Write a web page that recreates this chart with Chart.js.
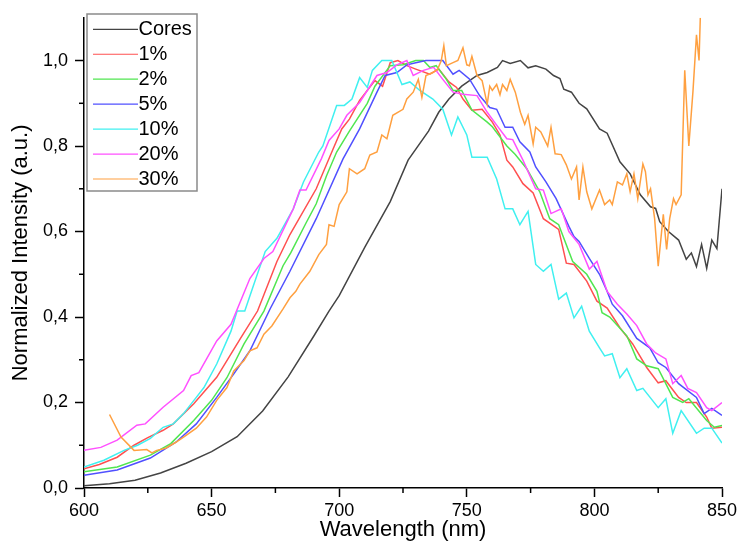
<!DOCTYPE html>
<html>
<head>
<meta charset="utf-8">
<script src="https://cdn.jsdelivr.net/npm/chart.js@4.4.1/dist/chart.umd.min.js"></script>
<style>
  html, body { margin: 0; padding: 0; background: #fff; }
  #c { display: block; }
</style>
</head>
<body>
<canvas id="c" width="741" height="544"></canvas>
<script>
// ---------------- DATA ----------------
const seriesLabels = ['Cores', '1%', '2%', '5%', '10%', '20%', '30%'];
const seriesColors = ['#444444', '#ff5050', '#50e650', '#5050ff', '#40f0f0', '#ff50ff', '#ffa040'];

const xTickValues = [600, 650, 700, 750, 800, 850];
const yTickValues = [0.0, 0.2, 0.4, 0.6, 0.8, 1.0];

const coresX = [600,610,620,630,640,650,660,670,680,690,696,700,710,720,727,735,739,743,748,754,758,762,764,767,771,774,777,781,784,786.5,788,791,794,797,802,805,810,814,818,822,824,825.6,829,833,836,838,840,842,844,846,848,850];
const coresY = [0.005,0.01,0.018,0.035,0.058,0.085,0.12,0.18,0.26,0.355,0.414,0.45,0.563,0.67,0.767,0.835,0.879,0.91,0.94,0.965,0.972,0.984,1.0,0.993,1.0,0.983,0.988,0.98,0.965,0.958,0.933,0.926,0.90,0.887,0.84,0.83,0.763,0.735,0.686,0.658,0.654,0.623,0.60,0.58,0.535,0.55,0.518,0.57,0.514,0.58,0.56,0.70];

const p1X = [600,606,613,619.6,625,631,635,643,652,661.5,668,675.6,680.7,691,697.6,701,704,708,714,717,720,723,726.5,730,735.5,739,743,746,748.5,752,756,760,763,765.7,768,772,776,780,786,789,792,797,801,805,810,815,820.5,825,828,833,836,840,844,846,850];
const p1Y = [0.045,0.055,0.072,0.1,0.118,0.135,0.15,0.197,0.259,0.352,0.414,0.53,0.593,0.70,0.793,0.84,0.863,0.907,0.953,0.94,0.995,1.0,0.988,0.98,0.968,0.98,0.95,0.937,0.91,0.884,0.886,0.856,0.826,0.767,0.751,0.712,0.69,0.63,0.605,0.526,0.523,0.484,0.437,0.421,0.375,0.337,0.282,0.246,0.251,0.212,0.2,0.2,0.166,0.14,0.142];

const p2X = [600,613,626,634,643,650,656,662.7,670.5,678,681,687,691,695,699,704,711,714,720,725,730,733,735.5,738,742,744.6,748,752,758,760,765.7,769,773.5,778.6,782.5,786,791.5,797,801,803,806,812.7,816.6,820.5,825,830.7,834.6,837,844,847,850];
const p2Y = [0.038,0.049,0.077,0.104,0.158,0.205,0.258,0.337,0.414,0.52,0.55,0.62,0.665,0.73,0.786,0.835,0.90,0.94,0.988,0.99,1.0,1.0,0.984,0.988,0.956,0.93,0.93,0.884,0.856,0.845,0.80,0.78,0.747,0.693,0.63,0.616,0.53,0.50,0.46,0.41,0.40,0.356,0.302,0.286,0.279,0.212,0.2,0.209,0.158,0.142,0.146];

const p5X = [600,613,626,636,644,652,658.7,665,673,680.7,691,701.5,708,714.8,718,722.6,726.5,730,734,740.6,744.6,747,751,755,759,761.7,765,768,770.8,774.7,777,781,785,790,792,794,798,802,805,807,811,816.6,821.7,825,828,833,840,843,846,850];
const p5Y = [0.03,0.042,0.07,0.107,0.15,0.212,0.267,0.321,0.42,0.507,0.63,0.77,0.84,0.926,0.965,0.972,0.99,0.995,1.0,1.0,0.968,0.977,0.957,0.918,0.89,0.886,0.844,0.844,0.81,0.786,0.751,0.716,0.677,0.612,0.588,0.577,0.537,0.50,0.46,0.43,0.403,0.35,0.328,0.293,0.282,0.244,0.212,0.174,0.186,0.17];

const p10X = [600,607.8,615.7,621,626,631,635,639,644,647,652,657.6,660,663,666.6,671,675.6,682,686,692,693.6,699,702,705,708,711,713,716.7,720.6,722.6,724.6,727.7,731.6,736.7,740.6,744,746.5,750,752,758,761.7,765,768,770.8,774,777,780,783,786,789,792,795,798,802,804,807,810,812.7,816.6,819,825,828,830.7,834,840,843,846,850];
const p10Y = [0.049,0.065,0.088,0.1,0.116,0.142,0.15,0.174,0.212,0.235,0.29,0.367,0.414,0.414,0.477,0.553,0.584,0.653,0.716,0.786,0.80,0.895,0.895,0.91,0.96,0.937,0.977,1.0,1.0,0.972,0.944,0.95,0.93,0.91,0.886,0.826,0.868,0.826,0.774,0.774,0.723,0.653,0.653,0.616,0.647,0.523,0.507,0.523,0.442,0.456,0.398,0.425,0.367,0.328,0.309,0.314,0.258,0.279,0.228,0.233,0.188,0.209,0.128,0.181,0.128,0.14,0.14,0.105];

const p20X = [600,606.6,613,620.7,624,631,639,642,645,652,657.6,665,670.5,674,682,684.6,687,693,696,700,703,708,714.8,718.7,722.6,726.5,729,733,737,740.6,744.6,748.5,754,758,761.7,765.7,768,772,777,780,783,787,790,794,798,801,805,809,812.7,816.6,820.5,824,828,830.7,834,836.6,840,844,846,850];
const p20Y = [0.088,0.095,0.112,0.147,0.15,0.189,0.228,0.263,0.27,0.344,0.383,0.49,0.537,0.553,0.653,0.697,0.697,0.77,0.813,0.84,0.872,0.902,0.965,0.972,0.99,1.0,0.965,0.977,0.984,0.956,0.926,0.921,0.918,0.879,0.849,0.817,0.815,0.767,0.70,0.697,0.642,0.653,0.60,0.57,0.512,0.53,0.46,0.43,0.407,0.38,0.337,0.316,0.302,0.244,0.263,0.233,0.223,0.188,0.181,0.20];

const p30X = [610,614.5,619.6,624.6,626.6,628.5,632,636,640,644,648,652,656,658.7,662.7,665,667.8,670.5,673.6,678,680.7,683,684.6,688.5,692,695,696,698,700,703,704,707,710,712,714.8,716.7,718.7,721,725,726.5,729,731,732.4,734,736.7,738.6,740,741,742,744.6,746.5,748.5,750,751,752,754,756,758,759,760,761.7,763,764,765.7,767,769,771,772.7,774,776,777,779,781.7,783,784.6,787,789,791,793,794,795.5,797,799,802,804,806,807,809,811,812.7,814,815.5,817,819,820,821,822,823.6,825,827,828.3,829.5,831,832,834,835.4,837,838.6,840,841,841.5];
const p30Y = [0.172,0.119,0.088,0.09,0.082,0.088,0.093,0.107,0.123,0.14,0.166,0.205,0.235,0.274,0.298,0.321,0.328,0.36,0.379,0.419,0.445,0.46,0.477,0.507,0.546,0.57,0.616,0.612,0.663,0.693,0.747,0.735,0.747,0.779,0.786,0.826,0.817,0.872,0.886,0.91,0.926,0.956,0.914,0.965,0.972,0.98,1.0,1.035,0.988,0.995,1.0,1.03,0.99,0.988,1.01,0.965,0.953,0.898,0.94,0.93,0.944,0.92,0.944,0.93,0.956,0.926,0.879,0.851,0.872,0.805,0.844,0.833,0.80,0.844,0.782,0.78,0.756,0.723,0.751,0.674,0.751,0.693,0.653,0.697,0.663,0.674,0.663,0.716,0.709,0.735,0.693,0.735,0.677,0.758,0.74,0.686,0.70,0.63,0.519,0.64,0.558,0.63,0.677,0.663,0.686,0.977,0.80,0.926,1.06,1.0,1.10];

// ---------------- BUILD ----------------
const seriesXs = [coresX, p1X, p2X, p5X, p10X, p20X, p30X];
const seriesYs = [coresY, p1Y, p2Y, p5Y, p10Y, p20Y, p30Y];
const zip = (xs, ys) => xs.map((x, i) => ({ x: x, y: ys[i] }));

const datasets = seriesLabels.map((label, i) => ({
  label: label,
  data: zip(seriesXs[i], seriesYs[i]),
  borderColor: seriesColors[i],
  backgroundColor: seriesColors[i],
  borderWidth: 1.5,
  pointRadius: 0,
  tension: 0,
  fill: false,
  order: seriesLabels.length - 1 - i
}));

const FONT = '"Liberation Sans", Arial, sans-serif';
Chart.defaults.font.family = FONT;
Chart.defaults.color = '#000';

const isMajorX = v => xTickValues.some(t => Math.abs(t - v) < 1e-6);
const isMajorY = v => yTickValues.some(t => Math.abs(t - v) < 1e-6);

const minorTicks = {
  id: 'minorTicks',
  afterDraw(chart) {
    const { ctx, scales: { x, y } } = chart;
    ctx.save();
    ctx.strokeStyle = '#000';
    ctx.lineWidth = 1.5;
    x.ticks.forEach(t => {
      if (!isMajorX(t.value)) {
        const px = x.getPixelForValue(t.value);
        ctx.beginPath(); ctx.moveTo(px, x.top); ctx.lineTo(px, x.top + 5); ctx.stroke();
      }
    });
    y.ticks.forEach(t => {
      if (!isMajorY(t.value) && t.value < 1.05) {
        const py = y.getPixelForValue(t.value);
        ctx.beginPath(); ctx.moveTo(y.right - 5, py); ctx.lineTo(y.right, py); ctx.stroke();
      }
    });
    ctx.restore();
  }
};

const boxLegend = {
  id: 'boxLegend',
  afterDraw(chart) {
    const { ctx } = chart;
    const bx = 87, by = 14, bw = 110, bh = 177;
    ctx.save();
    ctx.fillStyle = '#fff';
    ctx.fillRect(bx, by, bw, bh);
    ctx.strokeStyle = '#8a8a8a';
    ctx.lineWidth = 1.5;
    ctx.strokeRect(bx, by, bw, bh);
    ctx.font = '20px ' + FONT;
    ctx.textBaseline = 'middle';
    ctx.textAlign = 'left';
    chart.data.datasets.forEach((ds, i) => {
      const yy = 29.3 + i * 24.95;
      ctx.strokeStyle = ds.borderColor;
      ctx.lineWidth = 1.2;
      ctx.beginPath(); ctx.moveTo(93, yy); ctx.lineTo(138, yy); ctx.stroke();
      ctx.fillStyle = '#000';
      ctx.fillText(ds.label, 138.5, yy);
    });
    ctx.restore();
  }
};

new Chart(document.getElementById('c'), {
  type: 'line',
  data: { datasets: datasets },
  options: {
    responsive: false,
    animation: false,
    layout: { padding: { left: 0, right: 19, top: 14, bottom: 0 } },
    plugins: { legend: { display: false }, tooltip: { enabled: false } },
    scales: {
      x: {
        type: 'linear',
        min: 600, max: 850,
        afterFit: s => { s.height = 56; },
        ticks: {
          stepSize: 25, autoSkip: false, maxRotation: 0, padding: 3,
          font: { size: 18 },
          callback: v => isMajorX(v) ? String(v) : ''
        },
        grid: {
          drawOnChartArea: false, drawTicks: true, tickLength: 9, tickWidth: 1.5,
          tickColor: c => (c.tick && isMajorX(c.tick.value)) ? '#000' : 'rgba(0,0,0,0)'
        },
        border: { display: true, color: '#000', width: 1.5 },
        title: { display: true, text: 'Wavelength (nm)', font: { size: 22 }, padding: { top: 0, bottom: 1 } }
      },
      y: {
        type: 'linear',
        min: 0, max: 1.1,
        afterFit: s => { s.width = 84; },
        ticks: {
          stepSize: 0.1, autoSkip: false, padding: 7,
          font: { size: 18 },
          callback: v => isMajorY(v) ? v.toFixed(1).replace('.', ',') : ''
        },
        grid: {
          drawOnChartArea: false, drawTicks: true, tickLength: 9, tickWidth: 1.5,
          tickColor: c => (c.tick && isMajorY(c.tick.value)) ? '#000' : 'rgba(0,0,0,0)'
        },
        border: { display: true, color: '#000', width: 1.5 },
        title: { display: true, text: 'Normalized Intensity (a.u.)', font: { size: 22 }, padding: { top: 8, bottom: 0 } }
      }
    }
  },
  plugins: [minorTicks, boxLegend]
});
</script>
</body>
</html>
